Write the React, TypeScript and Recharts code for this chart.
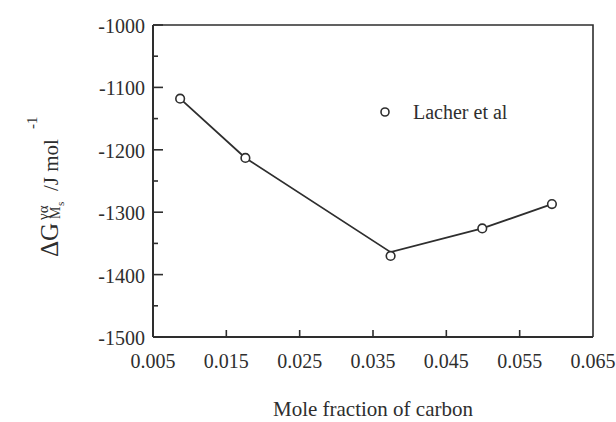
import React from "react";
import { LineChart, Line, XAxis, YAxis, Legend, Label } from "recharts";

// Lacher et al. — driving force at Ms vs carbon content
const moleFraction = [0.0087, 0.0176, 0.0374, 0.0499, 0.0594];
const deltaG = [-1118, -1213, -1370, -1326, -1287];
// drawn trend line, read at the same compositions
const fitG = [-1118, -1213, -1364, -1326, -1287];
const xTicks = [0.005, 0.015, 0.025, 0.035, 0.045, 0.055, 0.065];
const yTicks = [
  -1500, -1450, -1400, -1350, -1300, -1250, -1200, -1150, -1100, -1050, -1000,
];
const seriesName = "Lacher et al";
const xTitle = "Mole fraction of carbon";

const data = moleFraction.map((x, i) => ({ x, g: deltaG[i], fit: fitG[i] }));

const X_MIN = xTicks[0];
const X_MAX = xTicks[xTicks.length - 1];
const Y_MIN = yTicks[0];
const Y_MAX = yTicks[yTicks.length - 1];

const W = 616;
const H = 422;
const MARGIN = { top: 25, right: 23, bottom: 0, left: 0 };
const Y_AXIS_W = 153;
const X_AXIS_H = 85;
const PLOT_LEFT = MARGIN.left + Y_AXIS_W;
const PLOT_RIGHT = W - MARGIN.right;
const PLOT_TOP = MARGIN.top;
const PLOT_BOTTOM = H - MARGIN.bottom - X_AXIS_H;
const PLOT_CX = (PLOT_LEFT + PLOT_RIGHT) / 2;

const INK = "#2e2e2e";
const FONT = '"Liberation Serif", "Times New Roman", serif';

// y ticks point inward from the left axis
const YTick = (props: any) => {
  const { y, payload } = props;
  const v = Number(payload.value);
  const major = Math.round(v) % 100 === 0;
  return (
    <g>
      <line
        x1={PLOT_LEFT}
        x2={PLOT_LEFT + (major ? 10 : 5)}
        y1={y}
        y2={y}
        stroke={INK}
        strokeWidth={1.6}
      />
      {major && (
        <text
          x={PLOT_LEFT - 8}
          y={y + 8}
          textAnchor="end"
          fontSize={20}
          fontFamily={FONT}
          fill={INK}
        >
          {v}
        </text>
      )}
    </g>
  );
};

// x ticks point up, none at the two ends
const XTick = (props: any) => {
  const { x, payload } = props;
  const v = Number(payload.value);
  const isEnd = Math.abs(v - X_MIN) < 1e-9 || Math.abs(v - X_MAX) < 1e-9;
  return (
    <g>
      {!isEnd && (
        <line
          x1={x}
          x2={x}
          y1={PLOT_BOTTOM}
          y2={PLOT_BOTTOM - 7}
          stroke={INK}
          strokeWidth={1.6}
        />
      )}
      <text
        x={x}
        y={PLOT_BOTTOM + 31}
        textAnchor="middle"
        fontSize={20}
        fontFamily={FONT}
        fill={INK}
      >
        {v.toFixed(3)}
      </text>
    </g>
  );
};

// rotated y title: ΔG^{γα}_{M_s} /J mol^{-1}
const YTitle = () => (
  <g
    transform="translate(58, 257) rotate(-90)"
    fontFamily={FONT}
    fill={INK}
  >
    <text x={0} y={0} fontSize={25}>
      ΔG
    </text>
    <text x={37} y={-10} fontSize={15}>
      γα
    </text>
    <text x={38} y={2} fontSize={14}>
      M
    </text>
    <text x={51} y={6} fontSize={11}>
      s
    </text>
    <text x={66} y={0} fontSize={21}>
      /J mol
    </text>
    <text x={128} y={-21} fontSize={15}>
      -1
    </text>
  </g>
);

const XTitle = () => (
  <text
    x={PLOT_CX}
    y={416}
    textAnchor="middle"
    fontSize={21}
    fontFamily={FONT}
    fill={INK}
  >
    {xTitle}
  </text>
);

// overlay layer: closes the box on top/right and holds the legend entry
const LegendLayer = () => (
  <svg width={W} height={H} style={{ display: "block" }}>
    <polyline
      points={`${PLOT_LEFT},${PLOT_TOP} ${PLOT_RIGHT},${PLOT_TOP} ${PLOT_RIGHT},${PLOT_BOTTOM}`}
      fill="none"
      stroke={INK}
      strokeWidth={1.6}
    />
    <circle cx={385} cy={112} r={4} fill="#fff" stroke={INK} strokeWidth={1.6} />
    <text x={413} y={119} fontSize={20} fontFamily={FONT} fill={INK}>
      {seriesName}
    </text>
  </svg>
);

export default function App() {
  return (
    <div
      style={{
        position: "absolute",
        left: 0,
        top: 0,
        width: W,
        height: H,
        background: "#fff",
      }}
    >
      <LineChart width={W} height={H} data={data} margin={MARGIN}>
        <XAxis
          type="number"
          dataKey="x"
          domain={[X_MIN, X_MAX]}
          ticks={xTicks}
          height={X_AXIS_H}
          axisLine={{ stroke: INK, strokeWidth: 2 }}
          tickLine={false}
          tick={<XTick />}
          interval={0}
        >
          <Label content={<XTitle />} />
        </XAxis>
        <YAxis
          type="number"
          domain={[Y_MIN, Y_MAX]}
          ticks={yTicks}
          width={Y_AXIS_W}
          axisLine={{ stroke: INK, strokeWidth: 2 }}
          tickLine={false}
          tick={<YTick />}
          interval={0}
        >
          <Label content={<YTitle />} />
        </YAxis>
        <Legend
          layout="horizontal"
          verticalAlign="middle"
          content={<LegendLayer />}
          wrapperStyle={{
            position: "absolute",
            left: 0,
            top: 0,
            width: W,
            height: H,
            pointerEvents: "none",
          }}
        />
        <Line
          type="linear"
          dataKey="fit"
          stroke={INK}
          strokeWidth={1.8}
          dot={false}
          activeDot={false}
          legendType="none"
          isAnimationActive={false}
        />
        <Line
          type="linear"
          dataKey="g"
          name={seriesName}
          stroke="none"
          dot={{ r: 4.3, fill: "#fff", stroke: INK, strokeWidth: 1.6 }}
          activeDot={false}
          isAnimationActive={false}
        />
      </LineChart>
    </div>
  );
}
